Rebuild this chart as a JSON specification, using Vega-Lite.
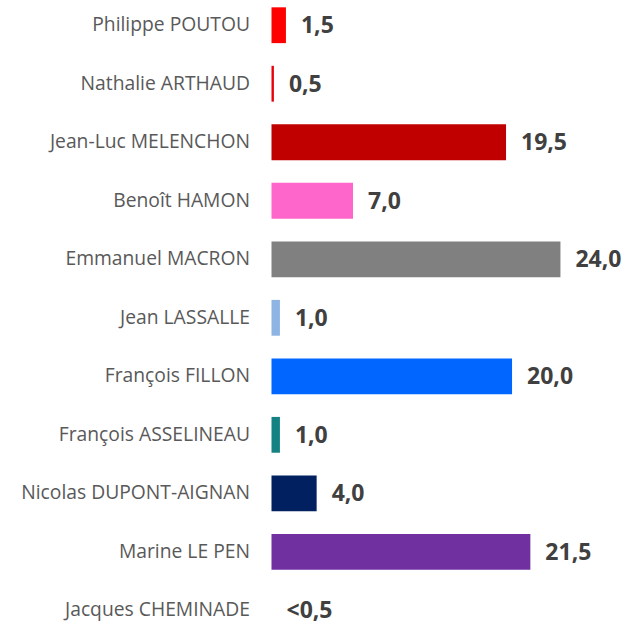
{
  "$schema": "https://vega.github.io/schema/vega-lite/v6.json",
  "autosize": "none",
  "padding": {"left": 271.5, "top": 0, "right": 0, "bottom": 0},
  "width": 361.2,
  "height": 635.6,
  "background": "white",
  "data": {
    "values": [
      {"candidate": "Philippe POUTOU", "score": 1.2, "label": "1,5"},
      {"candidate": "Nathalie ARTHAUD", "score": 0.2, "label": "0,5"},
      {"candidate": "Jean-Luc MELENCHON", "score": 19.48, "label": "19,5"},
      {"candidate": "Benoît HAMON", "score": 6.77, "label": "7,0"},
      {"candidate": "Emmanuel MACRON", "score": 24.0, "label": "24,0"},
      {"candidate": "Jean LASSALLE", "score": 0.7, "label": "1,0"},
      {"candidate": "François FILLON", "score": 19.98, "label": "20,0"},
      {"candidate": "François ASSELINEAU", "score": 0.7, "label": "1,0"},
      {"candidate": "Nicolas DUPONT-AIGNAN", "score": 3.75, "label": "4,0"},
      {"candidate": "Marine LE PEN", "score": 21.5, "label": "21,5"},
      {"candidate": "Jacques CHEMINADE", "score": 0, "label": "<0,5"}
    ]
  },
  "encoding": {
    "y": {
      "field": "candidate",
      "type": "nominal",
      "sort": null,
      "scale": {"paddingInner": 0.388, "paddingOuter": 0.125},
      "axis": {
        "title": null,
        "domain": false,
        "ticks": false,
        "tickSize": 0,
        "labelPadding": 22,
        "labelFont": "Open Sans",
        "labelFontSize": 19.3,
        "labelColor": "#595959",
        "labelLimit": 300
      }
    },
    "x": {
      "field": "score",
      "type": "quantitative",
      "scale": {"domain": [0, 30], "nice": false},
      "axis": null
    }
  },
  "layer": [
    {
      "mark": {"type": "bar"},
      "encoding": {
        "color": {
          "field": "candidate",
          "type": "nominal",
          "legend": null,
          "scale": {
            "domain": [
              "Philippe POUTOU",
              "Nathalie ARTHAUD",
              "Jean-Luc MELENCHON",
              "Benoît HAMON",
              "Emmanuel MACRON",
              "Jean LASSALLE",
              "François FILLON",
              "François ASSELINEAU",
              "Nicolas DUPONT-AIGNAN",
              "Marine LE PEN",
              "Jacques CHEMINADE"
            ],
            "range": [
              "#FF0000",
              "#E8000B",
              "#C00000",
              "#FF66CC",
              "#808080",
              "#8EB4E3",
              "#0066FF",
              "#148282",
              "#002060",
              "#7030A0",
              "#FFFFFF"
            ]
          }
        }
      }
    },
    {
      "mark": {
        "type": "text",
        "align": "left",
        "baseline": "middle",
        "dx": 15,
        "dy": 1,
        "font": "Open Sans",
        "fontWeight": "bold",
        "fontSize": 23,
        "color": "#404040"
      },
      "encoding": {
        "text": {"field": "label"}
      }
    }
  ],
  "config": {"view": {"stroke": null}}
}
